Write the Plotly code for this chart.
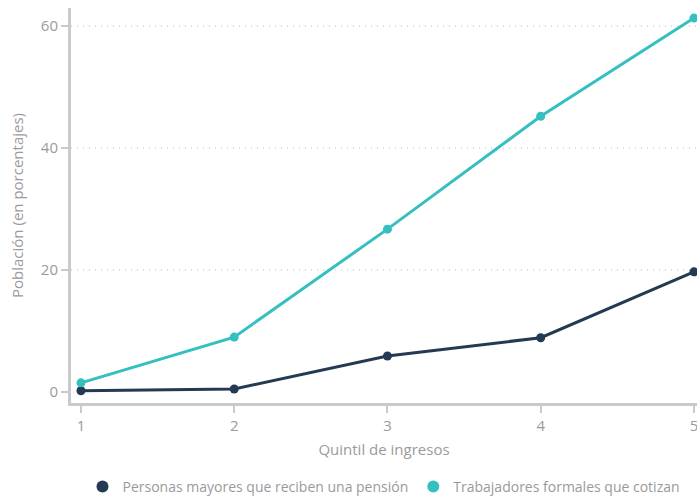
import plotly.graph_objects as go

quintiles = [1, 2, 3, 4, 5]
pension_mayores = [0.2, 0.5, 5.9, 8.9, 19.7]
trabajadores_cotizan = [1.5, 9.0, 26.7, 45.2, 61.3]
y_ticks = [0, 20, 40, 60]

series = [
    ("Personas mayores que reciben una pensión", pension_mayores, "#243A52"),
    ("Trabajadores formales que cotizan", trabajadores_cotizan, "#35BFC0"),
]

axis_gray = "#CACACC"
text_gray = "#9A9A9E"
font_family = "Open Sans, sans-serif"

fig = go.Figure()
for name, values, color in series:
    fig.add_trace(go.Scatter(
        x=quintiles, y=values, mode="lines+markers", name=name,
        line=dict(color=color, width=3), marker=dict(color=color, size=9),
        cliponaxis=False, showlegend=False, legendgroup=name,
    ))
# legend entries drawn as plain dots
for name, values, color in series:
    fig.add_trace(go.Scatter(
        x=[None], y=[None], mode="markers", name=name, legendgroup=name,
        marker=dict(color=color, size=12),
    ))

# dotted gridlines above zero
for v in y_ticks[1:]:
    fig.add_shape(type="line", xref="paper", x0=0, x1=1, yref="y", y0=v, y1=v,
                  line=dict(color="#BDBDBD", width=1, dash="1px,5px"), layer="below")

fig.update_layout(
    width=697, height=496,
    margin=dict(l=71, r=0, t=8, b=93),
    plot_bgcolor="white", paper_bgcolor="white",
    font=dict(family=font_family, size=15, color=text_gray),
    showlegend=True,
    legend=dict(orientation="h", x=0.5, xanchor="center",
                yref="container", y=9 / 496, yanchor="middle",
                font=dict(size=14, color=text_gray), traceorder="normal",
                itemwidth=30, tracegroupgap=0),
    xaxis=dict(
        range=[0.935, 5.02], tickvals=quintiles, showgrid=False, zeroline=False,
        showline=True, linecolor=axis_gray, linewidth=3, automargin=False,
        ticks="outside", ticklen=7, tickwidth=2, tickcolor=axis_gray,
        ticklabeloverflow="allow",
        tickfont=dict(size=15, color=text_gray),
        title=dict(text="Quintil de ingresos", font=dict(size=15, color=text_gray), standoff=11),
    ),
    yaxis=dict(
        range=[-1.8, 62.95], tickvals=y_ticks, zeroline=False, showgrid=False,
        showline=True, linecolor=axis_gray, linewidth=3, automargin=False,
        ticks="outside", ticklen=7, tickwidth=2, tickcolor=axis_gray,
        tickfont=dict(size=15, color=text_gray),
        title=dict(text="Población (en porcentajes)", font=dict(size=15, color=text_gray), standoff=14),
    ),
)

fig.write_html("out.html")
